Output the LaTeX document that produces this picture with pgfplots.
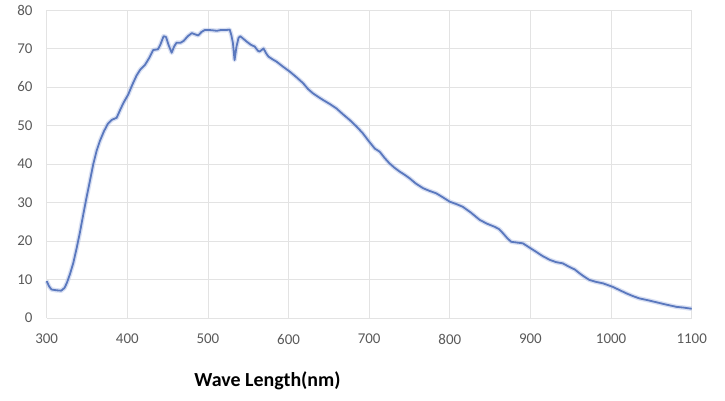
\documentclass[border=0pt]{standalone}
\usepackage{fontspec}
\setmainfont{Carlito}
\usepackage{pgfplots}
\pgfplotsset{compat=1.18}
\definecolor{curve}{HTML}{5A78BE}
\definecolor{glow}{HTML}{A9B9E3}
\definecolor{gridc}{HTML}{E3E3E3}
\definecolor{tickc}{HTML}{595959}
\begin{document}
\begin{tikzpicture}
\begin{axis}[
  at={(0,0)}, anchor=south west,
  scale only axis,
  width=645bp, height=308bp,
  xmin=300, xmax=1100, ymin=0, ymax=80,
  xtick={300,400,...,1100},
  ytick={0,10,...,80},
  grid=major,
  major grid style={gridc, line width=0.8bp},
  axis line style={draw=none},
  major tick length=0pt,
  /pgf/number format/assume math mode=true,
  /pgf/number format/set thousands separator={},
  tick label style={font=\fontsize{15}{18}\selectfont, text=tickc, inner sep=0pt},
  xticklabel style={anchor=north, yshift=-16bp},
  yticklabel style={anchor=east, xshift=-14bp},
  clip=false,
]
\addplot[glow, line width=4.5bp, opacity=0.45, line join=round] table {
300 9.6
303 8.2
306 7.4
312 7.2
318 7.1
322 7.8
325 9.1
329 11.5
333 14.3
337 18
341 22
345 26.5
349.6 31.5
354 36
357.8 40
362 43.5
366 46
371 48.5
376 50.5
381 51.5
386.7 52
391 54
395 55.8
401 58
406 60.5
411.5 63
416 64.5
421.8 65.7
427 67.5
432 69.6
438 69.8
441 71
445 73.2
448 73
451 71
455 68.9
458 70.5
461 71.5
466 71.5
470 72
475 73.2
480 74
485 73.6
488 73.4
492 74.3
496 74.8
502 74.8
507 74.7
511 74.6
516 74.8
522 74.8
527 74.9
529 73.5
531 71.4
533 67
535.4 70.5
538 72.8
540 73.2
544 72.5
548 71.8
553 71
558 70.5
562 69.4
564 69.2
569 70
572 68.8
575 67.9
580 67.2
585 66.6
593 65.3
601.5 64
610 62.5
618 61
624 59.5
630 58.4
637 57.4
643 56.6
651 55.6
659 54.5
667 53
676 51.4
684 49.8
692 48
700 45.8
707 44
713 43.2
719 41.6
725 40.2
731 39.1
738 38
744 37.2
750 36.3
758 34.9
767 33.7
775 33
783 32.4
791 31.4
800 30.2
808 29.6
816 28.9
826 27.4
837 25.5
846 24.5
855.5 23.7
861 23.1
866 22
871 20.8
876 19.8
883 19.6
890.6 19.4
898 18.4
907 17.2
915 16.1
924 15.1
932 14.5
940 14.2
948 13.3
955 12.6
961 11.6
967 10.7
973 9.9
981 9.4
990 9
1002 8.1
1010 7.3
1019 6.4
1027 5.7
1035 5.1
1046 4.6
1056 4.1
1068 3.5
1081 2.9
1090 2.7
1100 2.4
};
\addplot[curve, line width=1.8bp, line join=round] table {
300 9.6
303 8.2
306 7.4
312 7.2
318 7.1
322 7.8
325 9.1
329 11.5
333 14.3
337 18
341 22
345 26.5
349.6 31.5
354 36
357.8 40
362 43.5
366 46
371 48.5
376 50.5
381 51.5
386.7 52
391 54
395 55.8
401 58
406 60.5
411.5 63
416 64.5
421.8 65.7
427 67.5
432 69.6
438 69.8
441 71
445 73.2
448 73
451 71
455 68.9
458 70.5
461 71.5
466 71.5
470 72
475 73.2
480 74
485 73.6
488 73.4
492 74.3
496 74.8
502 74.8
507 74.7
511 74.6
516 74.8
522 74.8
527 74.9
529 73.5
531 71.4
533 67
535.4 70.5
538 72.8
540 73.2
544 72.5
548 71.8
553 71
558 70.5
562 69.4
564 69.2
569 70
572 68.8
575 67.9
580 67.2
585 66.6
593 65.3
601.5 64
610 62.5
618 61
624 59.5
630 58.4
637 57.4
643 56.6
651 55.6
659 54.5
667 53
676 51.4
684 49.8
692 48
700 45.8
707 44
713 43.2
719 41.6
725 40.2
731 39.1
738 38
744 37.2
750 36.3
758 34.9
767 33.7
775 33
783 32.4
791 31.4
800 30.2
808 29.6
816 28.9
826 27.4
837 25.5
846 24.5
855.5 23.7
861 23.1
866 22
871 20.8
876 19.8
883 19.6
890.6 19.4
898 18.4
907 17.2
915 16.1
924 15.1
932 14.5
940 14.2
948 13.3
955 12.6
961 11.6
967 10.7
973 9.9
981 9.4
990 9
1002 8.1
1010 7.3
1019 6.4
1027 5.7
1035 5.1
1046 4.6
1056 4.1
1068 3.5
1081 2.9
1090 2.7
1100 2.4
};
\node[anchor=base, inner sep=0pt, font=\fontsize{20}{24}\selectfont\bfseries]
  at ([yshift=-68.7bp]rel axis cs:0.3423,0) {Wave Length(nm)};
\end{axis}
\pgfresetboundingbox
\useasboundingbox (-46.7bp,-83bp) rectangle (678.3bp,318bp);
\end{tikzpicture}
\end{document}
